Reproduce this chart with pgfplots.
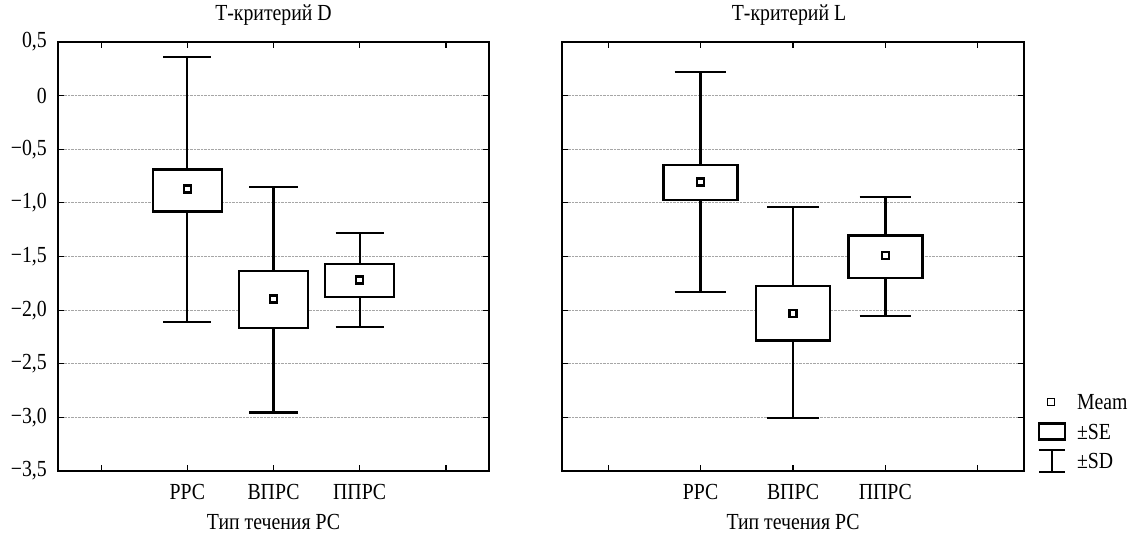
\documentclass[border=0pt]{standalone}
\usepackage{fontspec}
\setmainfont{Liberation Serif}[FakeStretch=0.86]
\usepackage{pgfplots}
\pgfplotsset{compat=1.18}
\usepgfplotslibrary{statistics}

\pgfplotsset{
  panel/.style={
    scale only axis,
    height=429pt,
    xmin=-0.5, xmax=4.5,
    ymin=-3.5, ymax=0.5,
    xtick={0,1,2,3,4},
    xticklabels={,РРС,ВПРС,ППРС,},
    ytick={-3.5,-3,-2.5,-2,-1.5,-1,-0.5,0,0.5},
    ymajorgrids,
    grid style={densely dotted, black!35, line width=0.8pt},
    axis line style={line width=1.7pt},
    major tick length=6pt,
    tick style={black, line width=1.2pt},
    font=\fontsize{23}{27}\selectfont,
    title style={at={(0.5,1)}, anchor=base, yshift=15pt},
    xticklabel style={inner sep=0pt, yshift=-13pt},
    yticklabel style={inner sep=0pt, xshift=-11pt},
    xlabel={Тип течения РС},
    xlabel style={at={(axis description cs:0.5,0)}, anchor=north, inner sep=0pt, yshift=-43pt},
    boxplot/draw direction=y,
    boxplot/box extend=0.8,
    boxplot/whisker extend=0.56,
    boxplot/every box/.style={fill=white},
    boxplot/every median/.style={draw=none},
    boxplot/every average/.style={/tikz/mark=square, /tikz/mark size=3.5pt,
      /tikz/draw=black, /tikz/line width=1.3pt},
  },
  bx/.style={black, line width=2.3pt, solid},
}

\begin{document}
\begin{tikzpicture}
\useasboundingbox (0pt,0pt) rectangle (1137pt,536pt);

% T-criterion D
\begin{axis}[panel, at={(58pt,65pt)}, anchor=south west, width=431pt,
  title={Т-критерий D},
  yticklabels={{−3,5},{−3,0},{−2,5},{−2,0},{−1,5},{−1,0},{−0,5},0,{0,5}}]
\addplot[bx, boxplot prepared={draw position=1, lower whisker=-2.11, lower quartile=-1.08,
  median=-0.87, upper quartile=-0.69, upper whisker=0.36, average=-0.87}] coordinates {};
\addplot[bx, boxplot prepared={draw position=2, lower whisker=-2.955, lower quartile=-2.165,
  median=-1.895, upper quartile=-1.634, upper whisker=-0.85, average=-1.895}] coordinates {};
\addplot[bx, boxplot prepared={draw position=3, lower whisker=-2.156, lower quartile=-1.88,
  median=-1.718, upper quartile=-1.569, upper whisker=-1.28, average=-1.718}] coordinates {};
\end{axis}

% T-criterion L
\begin{axis}[panel, at={(562pt,65pt)}, anchor=south west, width=462pt,
  title={Т-критерий L},
  title style={xshift=-4pt},
  yticklabels={},
  legend cell align=left,
  legend style={draw=none, fill=none, at={(axis description cs:1.0325,0.1795)},
    anchor=north west, inner sep=0pt, outer sep=0pt, row sep=13.5pt, column sep=12pt,
    nodes={inner sep=0pt, text height=16pt, text depth=0pt, anchor=west}}]
\addlegendimage{legend image code/.code={
  \path[draw=none, fill=none] (0pt,-8pt) rectangle (26pt,8pt);
  \draw[overlay, black, solid, line width=1.3pt, fill=white] (8.5pt,-3.5pt) rectangle (15.5pt,3.5pt);}}
\addlegendentry{Meam}
\addlegendimage{legend image code/.code={
  \path[draw=none, fill=none] (0pt,-8pt) rectangle (26pt,8pt);
  \draw[overlay, black, solid, line width=2.3pt, fill=none] (0pt,-8pt) rectangle (26pt,8pt);}}
\addlegendentry{±SE}
\addlegendimage{legend image code/.code={
  \path[draw=none, fill=none] (0pt,-8pt) rectangle (26pt,8pt);
  \draw[overlay, black, solid, line width=2.3pt] (0pt,11pt) -- (26pt,11pt)
    (13pt,11pt) -- (13pt,-11pt) (0pt,-11pt) -- (26pt,-11pt);}}
\addlegendentry{±SD}
\addplot[bx, boxplot prepared={draw position=1, lower whisker=-1.833, lower quartile=-0.97,
  median=-0.805, upper quartile=-0.646, upper whisker=0.223, average=-0.805}] coordinates {};
\addplot[bx, boxplot prepared={draw position=2, lower whisker=-3.007, lower quartile=-2.284,
  median=-2.029, upper quartile=-1.774, upper whisker=-1.038, average=-2.029}] coordinates {};
\addplot[bx, boxplot prepared={draw position=3, lower whisker=-2.054, lower quartile=-1.70,
  median=-1.49, upper quartile=-1.305, upper whisker=-0.942, average=-1.49}] coordinates {};
\end{axis}
\end{tikzpicture}
\end{document}
